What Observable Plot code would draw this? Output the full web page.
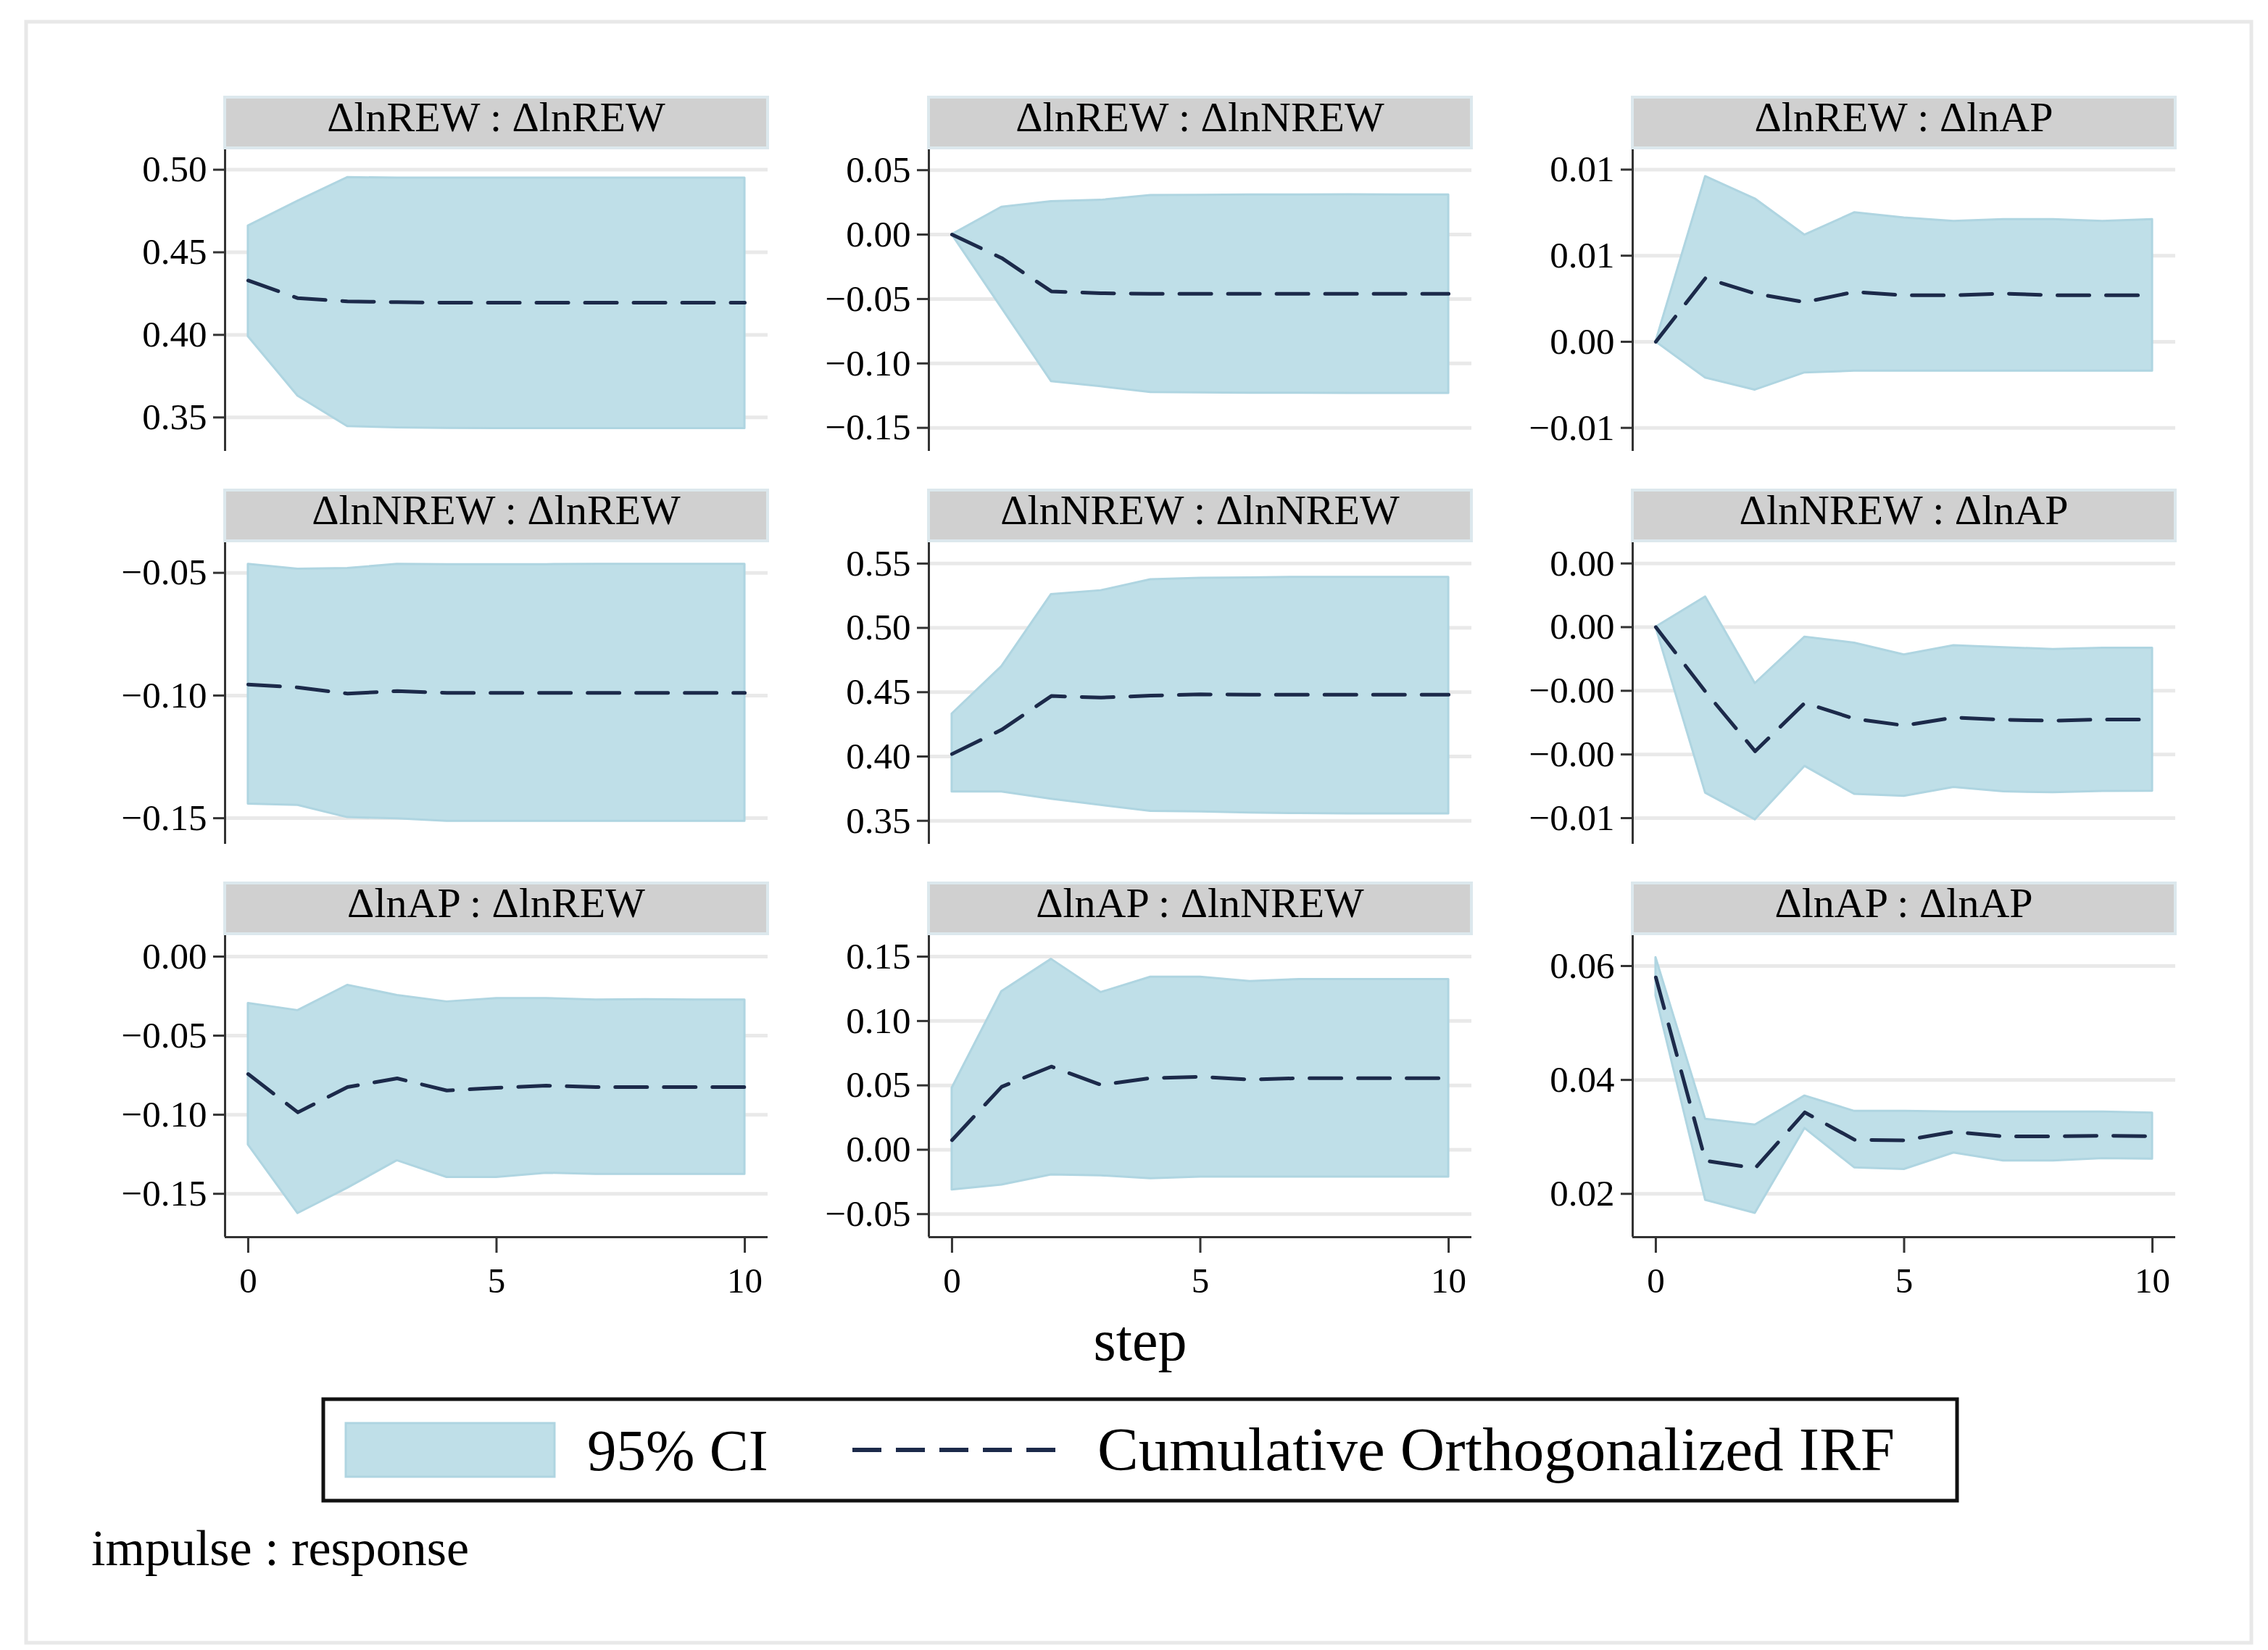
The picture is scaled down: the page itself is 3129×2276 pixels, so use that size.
<!DOCTYPE html>
<html>
<head>
<meta charset="utf-8">
<script src="https://cdn.jsdelivr.net/npm/d3@7"></script>
<script src="https://cdn.jsdelivr.net/npm/@observablehq/plot@0.6"></script>
<style>
  html, body { margin: 0; padding: 0; background: #ffffff; }
  #root { position: relative; width: 3129px; height: 2276px; font-family: "Liberation Serif", serif; overflow: hidden; }
  #root svg { position: absolute; }
</style>
</head>
<body>
<div id="root"></div>
<script>
// ---------------- DATA ----------------
const steps = [0, 1, 2, 3, 4, 5, 6, 7, 8, 9, 10];

const titles = [
  "ΔlnREW : ΔlnREW", "ΔlnREW : ΔlnNREW", "ΔlnREW : ΔlnAP",
  "ΔlnNREW : ΔlnREW", "ΔlnNREW : ΔlnNREW", "ΔlnNREW : ΔlnAP",
  "ΔlnAP : ΔlnREW", "ΔlnAP : ΔlnNREW", "ΔlnAP : ΔlnAP"
];

// impulse ΔlnREW
const p1_hi  = [0.466, 0.481, 0.4953, 0.4950, 0.4950, 0.4950, 0.4950, 0.4950, 0.4950, 0.4950, 0.4950];
const p1_lo  = [0.399, 0.363, 0.3445, 0.3438, 0.3434, 0.3433, 0.3433, 0.3433, 0.3433, 0.3433, 0.3433];
const p1_irf = [0.4329, 0.4222, 0.4203, 0.4198, 0.4195, 0.4195, 0.4195, 0.4195, 0.4195, 0.4195, 0.4195];

const p2_hi  = [0, 0.0213, 0.0257, 0.0267, 0.0304, 0.0306, 0.0308, 0.0308, 0.0310, 0.0308, 0.0308];
const p2_lo  = [0, -0.057, -0.114, -0.118, -0.1225, -0.1228, -0.1230, -0.1230, -0.1232, -0.1232, -0.1232];
const p2_irf = [0, -0.0182, -0.0441, -0.0455, -0.0460, -0.0460, -0.0460, -0.0460, -0.0460, -0.0460, -0.0460];

const p3_hi  = [0, 0.0096, 0.0083, 0.0062, 0.0075, 0.0072, 0.0070, 0.0071, 0.0071, 0.0070, 0.0071];
const p3_lo  = [0, -0.0021, -0.0028, -0.0018, -0.0017, -0.0017, -0.0017, -0.0017, -0.0017, -0.0017, -0.0017];
const p3_irf = [0, 0.0037, 0.0028, 0.0023, 0.0029, 0.0027, 0.0027, 0.0028, 0.0027, 0.0027, 0.0027];

// impulse ΔlnNREW
const p4_hi  = [-0.0465, -0.0485, -0.0482, -0.0465, -0.0466, -0.0466, -0.0466, -0.0465, -0.0465, -0.0465, -0.0465];
const p4_lo  = [-0.1442, -0.1447, -0.1497, -0.1502, -0.1512, -0.1512, -0.1512, -0.1512, -0.1512, -0.1512, -0.1512];
const p4_irf = [-0.0955, -0.0967, -0.0992, -0.0982, -0.0989, -0.0989, -0.0989, -0.0989, -0.0989, -0.0989, -0.0989];

const p5_hi  = [0.4331, 0.470, 0.526, 0.529, 0.5375, 0.5386, 0.5390, 0.5394, 0.5394, 0.5394, 0.5394];
const p5_lo  = [0.3725, 0.3725, 0.3669, 0.3621, 0.3574, 0.3570, 0.3562, 0.3557, 0.3555, 0.3555, 0.3555];
const p5_irf = [0.4019, 0.4208, 0.4470, 0.4458, 0.4473, 0.4483, 0.4481, 0.4481, 0.4481, 0.4481, 0.4481];

const p6_hi  = [0, 0.00095, -0.00177, -0.00031, -0.00050, -0.00087, -0.00058, -0.00064, -0.00070, -0.00066, -0.00066];
const p6_lo  = [0, -0.00521, -0.00605, -0.00437, -0.00525, -0.00531, -0.00503, -0.00517, -0.00520, -0.00516, -0.00515];
const p6_irf = [0, -0.00203, -0.00390, -0.00238, -0.00288, -0.00309, -0.00284, -0.00291, -0.00294, -0.00290, -0.00290];

// impulse ΔlnAP
const p7_hi  = [-0.0296, -0.0341, -0.0181, -0.0245, -0.0286, -0.0265, -0.0265, -0.0274, -0.0272, -0.0274, -0.0274];
const p7_lo  = [-0.1190, -0.1624, -0.1464, -0.1290, -0.1396, -0.1396, -0.1369, -0.1376, -0.1376, -0.1376, -0.1376];
const p7_irf = [-0.0743, -0.0985, -0.0825, -0.0770, -0.0847, -0.0830, -0.0816, -0.0825, -0.0825, -0.0825, -0.0825];

const p8_hi  = [0.0478, 0.1229, 0.1480, 0.1222, 0.1341, 0.1341, 0.1307, 0.1323, 0.1323, 0.1323, 0.1323];
const p8_lo  = [-0.0312, -0.0274, -0.0195, -0.0202, -0.0224, -0.0211, -0.0211, -0.0211, -0.0211, -0.0211, -0.0211];
const p8_irf = [0.0074, 0.0489, 0.0646, 0.0504, 0.0556, 0.0567, 0.0545, 0.0556, 0.0556, 0.0556, 0.0556];

const p9_hi  = [0.0615, 0.0331, 0.0321, 0.0372, 0.0345, 0.0345, 0.0344, 0.0344, 0.0344, 0.0344, 0.0342];
const p9_lo  = [0.0548, 0.0189, 0.0166, 0.0315, 0.0246, 0.0243, 0.0272, 0.0258, 0.0258, 0.0262, 0.0261];
const p9_irf = [0.0580, 0.0258, 0.0245, 0.0343, 0.0295, 0.0294, 0.0309, 0.0301, 0.0301, 0.0302, 0.0301];

// y-axis ticks and their printed labels
const p1_ticks = [0.35, 0.40, 0.45, 0.50];           const p1_labels = ["0.35", "0.40", "0.45", "0.50"];
const p2_ticks = [-0.15, -0.10, -0.05, 0, 0.05];     const p2_labels = ["−0.15", "−0.10", "−0.05", "0.00", "0.05"];
const p3_ticks = [-0.005, 0, 0.005, 0.010];          const p3_labels = ["−0.01", "0.00", "0.01", "0.01"];
const p4_ticks = [-0.15, -0.10, -0.05];              const p4_labels = ["−0.15", "−0.10", "−0.05"];
const p5_ticks = [0.35, 0.40, 0.45, 0.50, 0.55];     const p5_labels = ["0.35", "0.40", "0.45", "0.50", "0.55"];
const p6_ticks = [-0.006, -0.004, -0.002, 0, 0.002]; const p6_labels = ["−0.01", "−0.00", "−0.00", "0.00", "0.00"];
const p7_ticks = [-0.15, -0.10, -0.05, 0];           const p7_labels = ["−0.15", "−0.10", "−0.05", "0.00"];
const p8_ticks = [-0.05, 0, 0.05, 0.10, 0.15];       const p8_labels = ["−0.05", "0.00", "0.05", "0.10", "0.15"];
const p9_ticks = [0.02, 0.04, 0.06];                 const p9_labels = ["0.02", "0.04", "0.06"];

const xTicks = [0, 5, 10];
const legendLabels = ["95% CI", "Cumulative Orthogonalized IRF"];
const xTitle = "step";
const caption = "impulse : response";

// y domains
const p1_dom = [0.3295, 0.513];
const p2_dom = [-0.1682, 0.067];
const p3_dom = [-0.00636, 0.01124];
const p4_dom = [-0.1606, -0.0371];
const p5_dom = [0.3318, 0.5674];
const p6_dom = [-0.00682, 0.0027];
const p7_dom = [-0.1774, 0.0142];
const p8_dom = [-0.0679, 0.1675];
const p9_dom = [0.0124, 0.0656];

// ---------------- LAYOUT / STYLE ----------------
const FONT = "Liberation Serif";
const BAND = "#bfdfe8", BAND_EDGE = "#afd5e1", IRF = "#1c2a4a";
const colLeft = [310, 1281, 2252], rowTop = [204, 746, 1288];
const PW = 749, PH = 418;

const panels = [
  [p1_hi, p1_lo, p1_irf, p1_ticks, p1_labels, p1_dom],
  [p2_hi, p2_lo, p2_irf, p2_ticks, p2_labels, p2_dom],
  [p3_hi, p3_lo, p3_irf, p3_ticks, p3_labels, p3_dom],
  [p4_hi, p4_lo, p4_irf, p4_ticks, p4_labels, p4_dom],
  [p5_hi, p5_lo, p5_irf, p5_ticks, p5_labels, p5_dom],
  [p6_hi, p6_lo, p6_irf, p6_ticks, p6_labels, p6_dom],
  [p7_hi, p7_lo, p7_irf, p7_ticks, p7_labels, p7_dom],
  [p8_hi, p8_lo, p8_irf, p8_ticks, p8_labels, p8_dom],
  [p9_hi, p9_lo, p9_irf, p9_ticks, p9_labels, p9_dom]
];

const root = document.getElementById("root");
const xDom = [-0.466, 10.466];

panels.forEach(([hi, lo, irf, ticks, labels, dom], idx) => {
  const r = Math.floor(idx / 3), c = idx % 3;
  const bottom = r === 2;
  const mL = 230, mR = 10, mT = 10, mB = bottom ? 130 : 10;
  const data = steps.map((s, k) => ({step: s, hi: hi[k], lo: lo[k], irf: irf[k]}));
  const labelOf = new Map(ticks.map((t, i) => [t, labels[i]]));
  const marks = [
    Plot.gridY(ticks, {stroke: "#e9e9e9", strokeOpacity: 1, strokeWidth: 5}),
    Plot.areaY(data, {x: "step", y1: "lo", y2: "hi", fill: BAND, stroke: BAND_EDGE, strokeWidth: 3}),
    Plot.lineY(data, {x: "step", y: "irf", stroke: IRF, strokeWidth: 5, strokeDasharray: "44,23"}),
    Plot.axisY(ticks, {tickFormat: d => labelOf.get(d), tickSize: 16, tickPadding: 9,
      fontSize: 51, stroke: "#333", strokeWidth: 3, label: null}),
    Plot.ruleX([xDom[0]], {stroke: "#333", strokeWidth: 3})
  ];
  if (bottom) {
    marks.push(Plot.ruleY([dom[0]], {stroke: "#333", strokeWidth: 3}));
    marks.push(Plot.axisX(xTicks, {tickSize: 22, tickPadding: 20, fontSize: 49,
      stroke: "#333", strokeWidth: 3, label: null}));
  }
  const chart = Plot.plot({
    width: PW + mL + mR, height: PH + mT + mB,
    marginLeft: mL, marginRight: mR, marginTop: mT, marginBottom: mB,
    style: {fontFamily: FONT, fontSize: "50px", color: "#000", background: "transparent", overflow: "visible"},
    x: {domain: xDom, axis: null},
    y: {domain: dom, axis: null},
    marks
  });
  chart.style.position = "absolute";
  chart.style.left = (colLeft[c] - mL) + "px";
  chart.style.top = (rowTop[r] - mT) + "px";
  root.appendChild(chart);
});

// ---------------- ANNOTATIONS (strips, x title, legend, caption) ----------------
const ov = d3.select(root).append("svg")
  .attr("width", 3129).attr("height", 2276)
  .style("left", "0px").style("top", "0px")
  .style("font-family", FONT);

ov.append("rect").attr("x", 36).attr("y", 30).attr("width", 3070).attr("height", 2236)
  .attr("fill", "none").attr("stroke", "#e8e8e8").attr("stroke-width", 5);

titles.forEach((t, idx) => {
  const r = Math.floor(idx / 3), c = idx % 3;
  const top = rowTop[r] - 70;
  ov.append("rect").attr("x", colLeft[c]).attr("y", top).attr("width", PW).attr("height", 70)
    .attr("fill", "#d0d0d0").attr("stroke", "#dce8ed").attr("stroke-width", 4);
  ov.append("text").attr("x", colLeft[c] + PW / 2).attr("y", top + 47)
    .attr("text-anchor", "middle").attr("font-size", 58).attr("fill", "#000").text(t);
});

ov.append("text").attr("x", 1573).attr("y", 1876).attr("text-anchor", "middle")
  .attr("font-size", 80).attr("fill", "#000").text(xTitle);

// legend
ov.append("rect").attr("x", 446).attr("y", 1930).attr("width", 2254).attr("height", 140)
  .attr("fill", "#fff").attr("stroke", "#111").attr("stroke-width", 5);
ov.append("rect").attr("x", 477).attr("y", 1963).attr("width", 288).attr("height", 74)
  .attr("fill", BAND).attr("stroke", BAND_EDGE).attr("stroke-width", 3);
ov.append("text").attr("x", 810).attr("y", 2028).attr("font-size", 81).attr("fill", "#000").text(legendLabels[0]);
ov.append("line").attr("x1", 1176).attr("x2", 1470).attr("y1", 2000).attr("y2", 2000)
  .attr("stroke", IRF).attr("stroke-width", 6).attr("stroke-dasharray", "40,20");
ov.append("text").attr("x", 1514).attr("y", 2028).attr("font-size", 85).attr("fill", "#000").text(legendLabels[1]);

ov.append("text").attr("x", 126).attr("y", 2159).attr("font-size", 70).attr("fill", "#000").text(caption);
</script>
</body>
</html>
